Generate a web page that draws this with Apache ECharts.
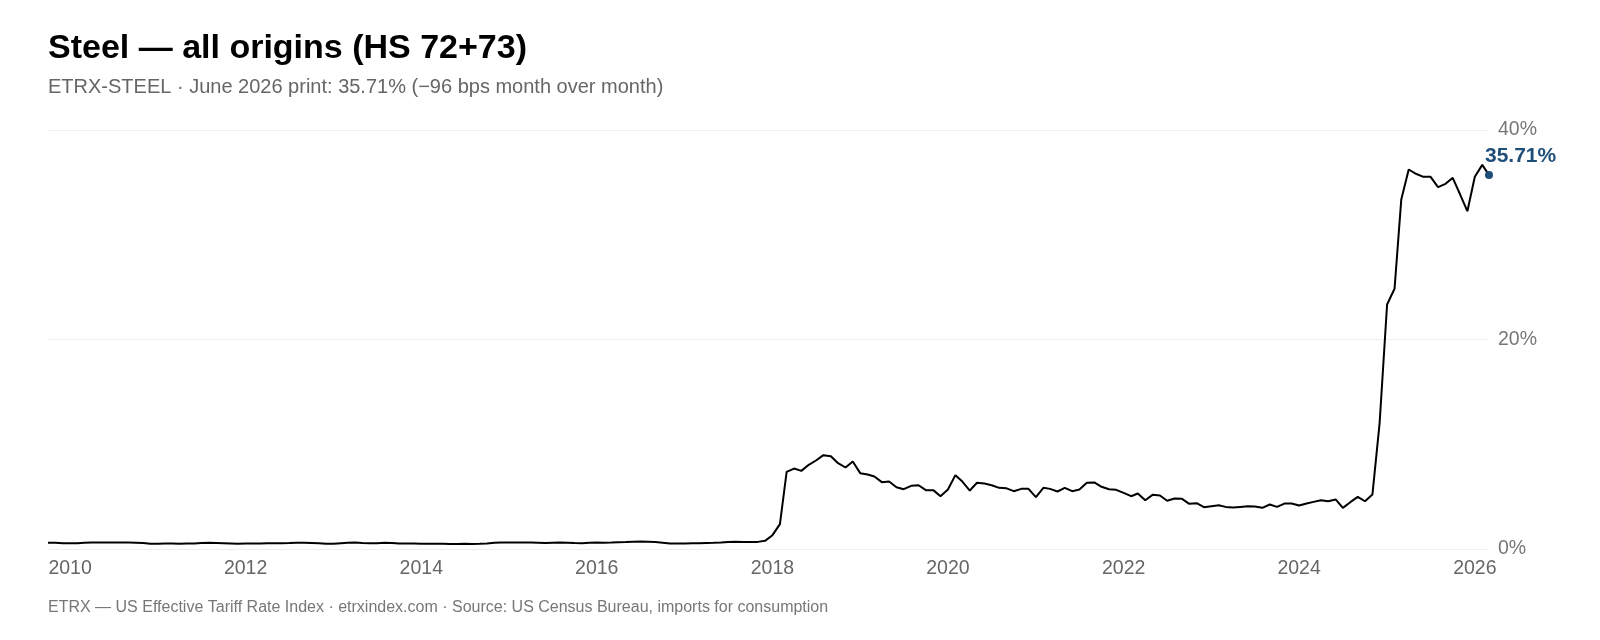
<!DOCTYPE html>
<html lang="en">
<head>
    <meta charset="UTF-8">
    <title>Steel — all origins (HS 72+73)</title>
    <script src="https://cdn.jsdelivr.net/npm/echarts@6/dist/echarts.min.js"></script>
    <style>
        html, body {
            margin: 0;
            padding: 0;
            background: #fff;
        }
        #chart {
            width: 1600px;
            height: 640px;
        }
    </style>
</head>
<body>
<div id="chart"></div>
<script>
    // monthly series, first point is Oct 2009
    const firstMonth = [2009, 10];
    const rateValues = [
        0.60, 0.59, 0.56, 0.54, 0.56, 0.60, 0.62, 0.63, 0.63, 0.62, 0.62, 0.62,
        0.60, 0.58, 0.50, 0.51, 0.52, 0.52, 0.51, 0.52, 0.53, 0.57, 0.60, 0.58,
        0.55, 0.52, 0.49, 0.52, 0.53, 0.53, 0.54, 0.54, 0.55, 0.57, 0.60, 0.60,
        0.58, 0.55, 0.49, 0.51, 0.56, 0.60, 0.62, 0.57, 0.54, 0.56, 0.59, 0.57,
        0.52, 0.53, 0.52, 0.51, 0.51, 0.50, 0.49, 0.48, 0.48, 0.49, 0.48, 0.50,
        0.53, 0.59, 0.62, 0.63, 0.62, 0.63, 0.62, 0.60, 0.57, 0.60, 0.63, 0.60,
        0.57, 0.55, 0.59, 0.62, 0.60, 0.62, 0.65, 0.66, 0.69, 0.72, 0.69, 0.66,
        0.60, 0.53, 0.52, 0.53, 0.55, 0.56, 0.58, 0.59, 0.62, 0.67, 0.69, 0.68,
        0.66, 0.68, 0.78, 1.32, 2.37, 7.37, 7.68, 7.46, 8.04, 8.45, 8.96, 8.86,
        8.19, 7.78, 8.35, 7.24, 7.11, 6.92, 6.38, 6.44, 5.90, 5.71, 6.03, 6.09,
        5.62, 5.62, 5.04, 5.68, 7.05, 6.44, 5.58, 6.32, 6.25, 6.09, 5.84, 5.79,
        5.52, 5.74, 5.74, 4.95, 5.84, 5.74, 5.49, 5.84, 5.52, 5.68, 6.32, 6.35,
        5.94, 5.71, 5.65, 5.36, 5.04, 5.30, 4.66, 5.17, 5.11, 4.60, 4.82, 4.79,
        4.31, 4.37, 3.99, 4.09, 4.18, 4.02, 3.96, 4.02, 4.07, 4.05, 3.93, 4.25,
        4.02, 4.34, 4.34, 4.15, 4.34, 4.50, 4.66, 4.56, 4.73, 3.93, 4.47, 4.98,
        4.56, 5.20, 12.05, 23.34, 24.84, 33.36, 36.23, 35.82, 35.53, 35.53, 34.54, 34.86,
        35.43, 33.84, 32.25, 35.53, 36.67, 35.71
    ];
    const yearLabels = [2010, 2012, 2014, 2016, 2018, 2020, 2022, 2024, 2026];

    const titleText = 'Steel — all origins (HS 72+73)';
    const subtitleText = 'ETRX-STEEL · June 2026 print: 35.71% (−96 bps month over month)';
    const footerText = 'ETRX — US Effective Tariff Rate Index · etrxindex.com · Source: US Census Bureau, imports for consumption';

    const fontName = '"Liberation Sans", Arial, Helvetica, sans-serif';
    const accent = '#1f4e79';

    /*月份 -> 时间戳*/
    const monthStamps = rateValues.map((v, i) => {
        const d = new Date(firstMonth[0], firstMonth[1] - 1 + i, 1);
        return d.getTime();
    });
    const seriesData = rateValues.map((v, i) => [monthStamps[i], v]);
    const lastPoint = seriesData[seriesData.length - 1];
    const yearStamps = yearLabels.map(y => new Date(y, 0, 1).getTime());

    const chart = echarts.init(document.getElementById('chart'), null, {renderer: 'canvas'});
    const option = {
        backgroundColor: '#ffffff',
        animation: false,
        textStyle: {fontFamily: fontName},
        title: [{
            text: titleText,
            left: 48,
            top: 32,
            padding: 0,
            textStyle: {
                fontFamily: fontName,
                fontSize: 34,
                fontWeight: 'bold',
                color: '#000000'
            }
        }, {
            text: subtitleText,
            left: 48,
            top: 77,
            padding: 0,
            textStyle: {
                fontFamily: fontName,
                fontSize: 20,
                fontWeight: 'normal',
                color: '#666666'
            }
        }, {
            text: footerText,
            left: 48,
            top: 600,
            padding: 0,
            textStyle: {
                fontFamily: fontName,
                fontSize: 16,
                fontWeight: 'normal',
                color: '#777777'
            }
        }],
        grid: {
            left: 48,
            right: 111,
            top: 130,
            bottom: 91,
            containLabel: false
        },
        xAxis: {
            type: 'value',
            min: monthStamps[0],
            max: monthStamps[monthStamps.length - 1],
            axisLine: {show: false},
            axisTick: {show: false},
            splitLine: {show: false},
            axisLabel: {
                customValues: yearStamps,
                formatter: (val) => String(new Date(val).getFullYear()),
                color: '#666666',
                fontSize: 19.5,
                margin: 10,
                fontFamily: fontName,
                showMinLabel: true,
                showMaxLabel: true
            }
        },
        yAxis: {
            type: 'value',
            position: 'right',
            min: 0,
            max: 40,
            interval: 20,
            axisLine: {show: false},
            axisTick: {show: false},
            splitLine: {
                lineStyle: {color: '#eeeeee', width: 1}
            },
            axisLabel: {
                formatter: '{value}%',
                color: '#777777',
                fontSize: 19.5,
                margin: 9,
                padding: [10, 0, 0, 0],
                fontFamily: fontName
            }
        },
        series: [{
            type: 'line',
            data: seriesData,
            showSymbol: false,
            symbol: 'none',
            lineStyle: {color: '#000000', width: 2},
            z: 3
        }, {
            type: 'scatter',
            data: [lastPoint],
            symbolSize: 8,
            itemStyle: {color: accent, opacity: 1},
            label: {
                show: true,
                position: 'top',
                align: 'left',
                distance: 4,
                offset: [-4, 0],
                formatter: (p) => p.value[1].toFixed(2) + '%',
                color: accent,
                opacity: 1,
                fontSize: 21,
                fontWeight: 'bold',
                fontFamily: fontName
            },
            z: 4
        }]
    };
    chart.setOption(option);
</script>
</body>
</html>
